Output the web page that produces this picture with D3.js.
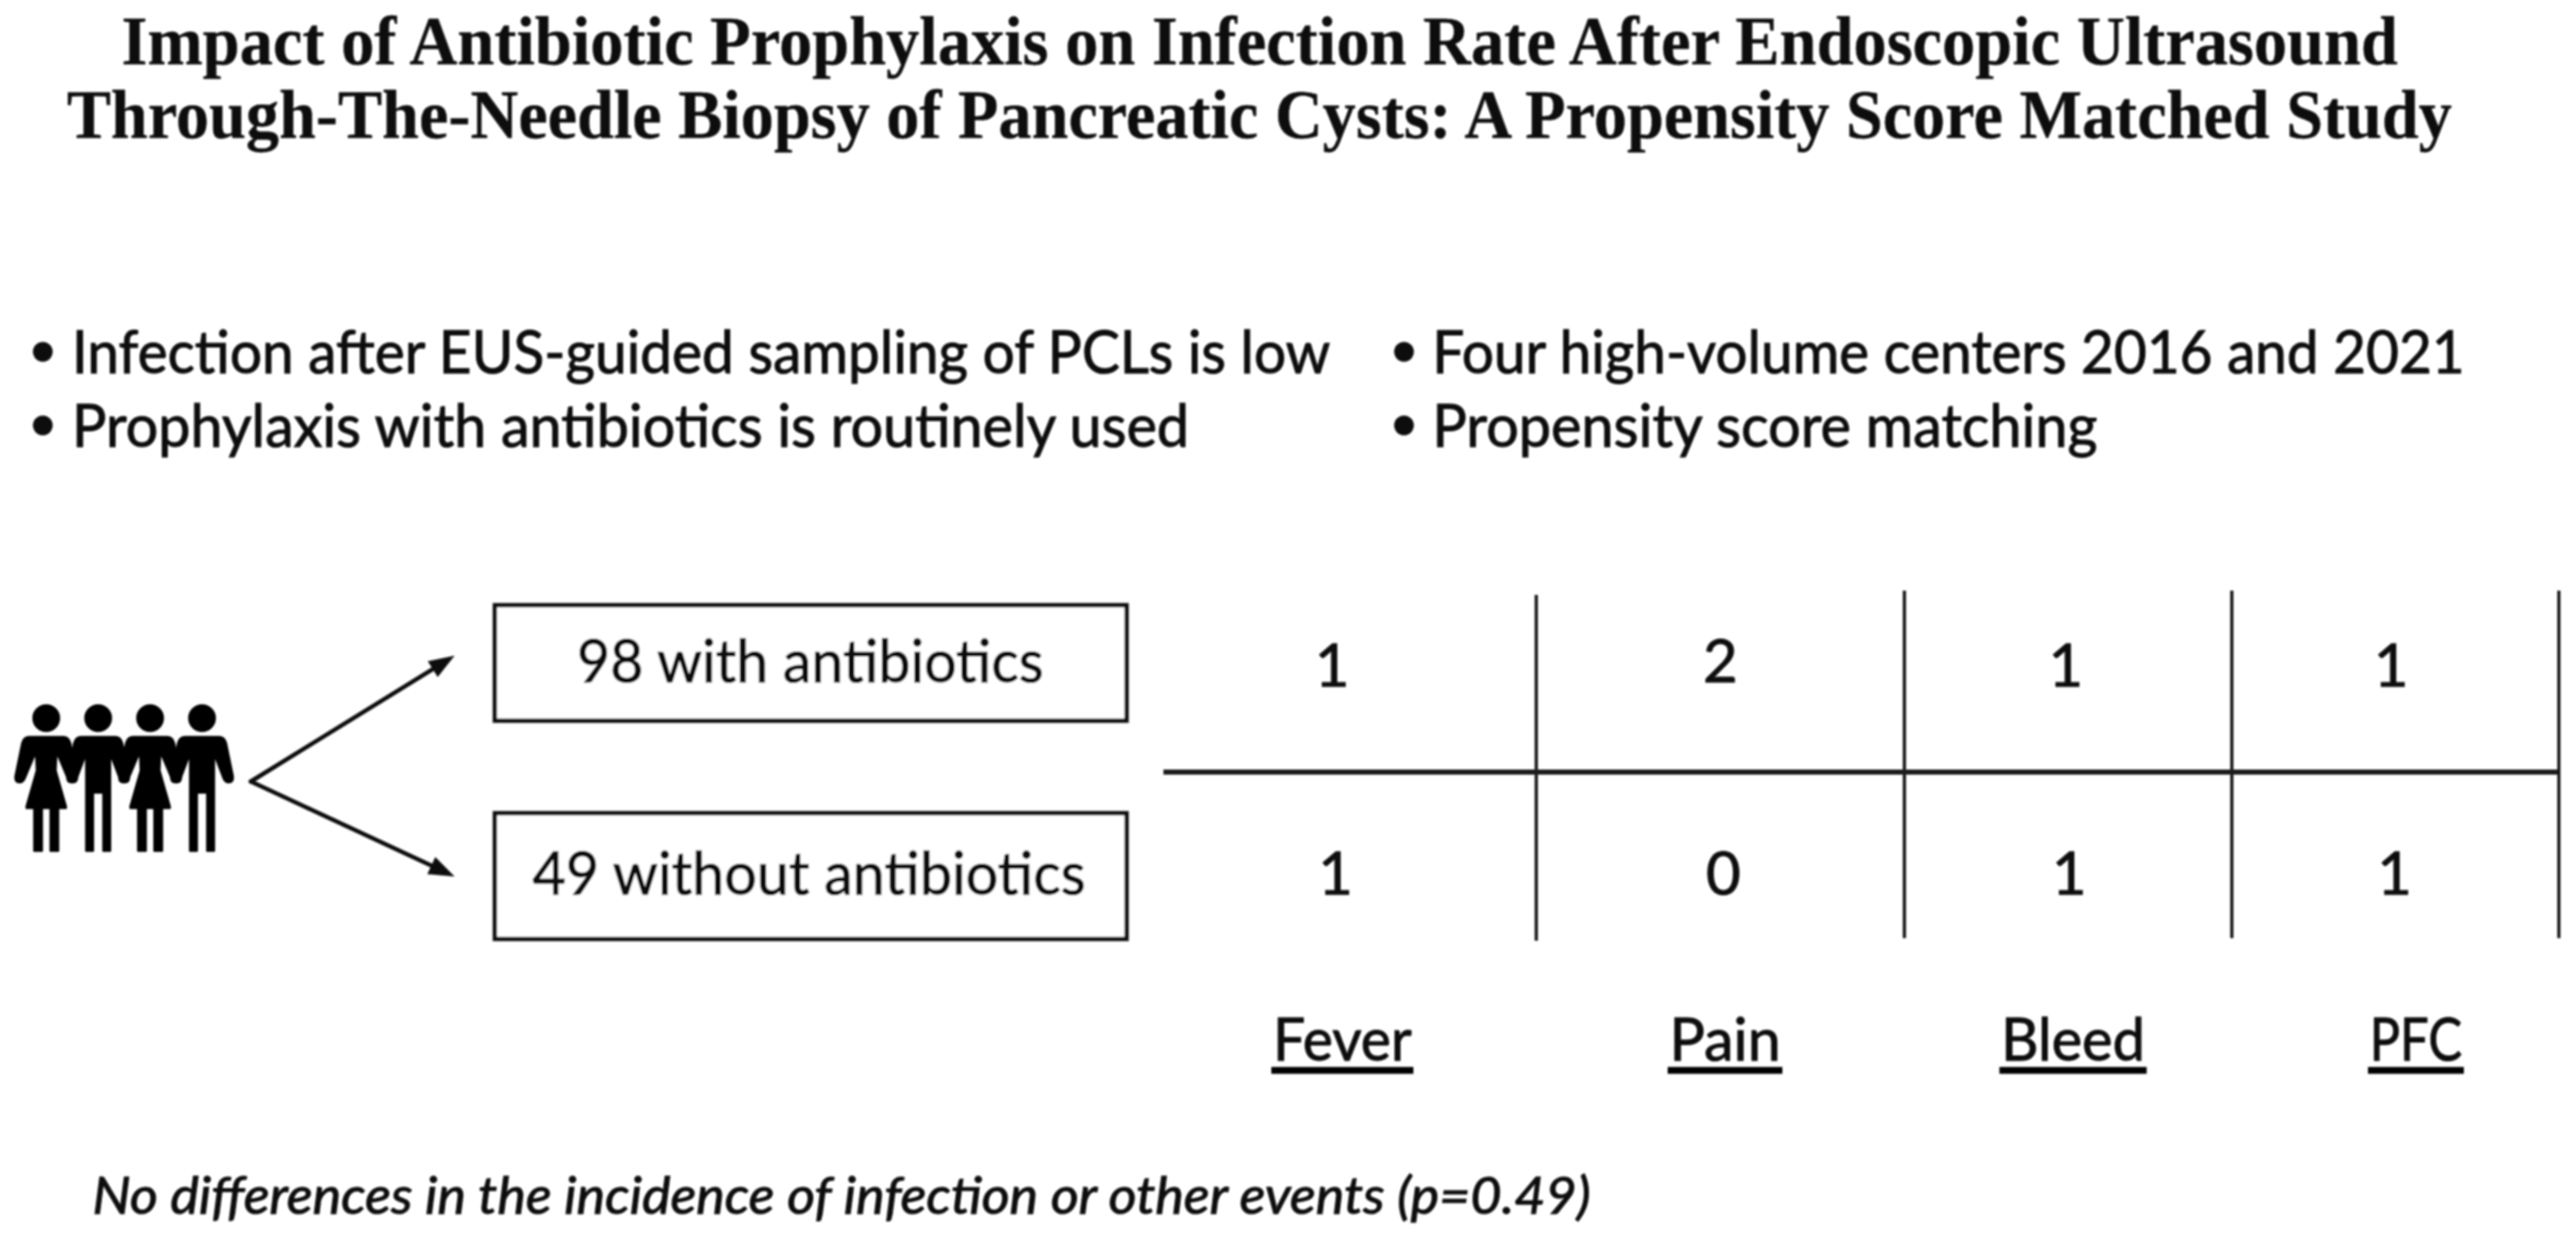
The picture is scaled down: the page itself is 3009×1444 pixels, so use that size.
<!DOCTYPE html>
<html><head><meta charset="utf-8">
<script src="https://cdn.jsdelivr.net/npm/d3@7"></script>
<style>html,body{margin:0;padding:0;background:#fff;overflow:hidden}svg{display:block}</style>
</head><body><svg id="c" width="3009" height="1444"></svg>
<script>
// ---- content ----
const titleLines = ["Impact of Antibiotic Prophylaxis on Infection Rate After Endoscopic Ultrasound",
                    "Through-The-Needle Biopsy of Pancreatic Cysts: A Propensity Score Matched Study"];
const bulletsLeft = ["Infection after EUS-guided sampling of PCLs is low","Prophylaxis with antibiotics is routinely used"];
const bulletsRight = ["Four high-volume centers 2016 and 2021","Propensity score matching"];
const groups = ["98 with antibiotics","49 without antibiotics"];
const categories = ["Fever","Pain","Bleed","PFC"];
const withAntibiotics = [1,2,1,1];
const withoutAntibiotics = [1,0,1,1];
const people = ["woman","man","woman","man"];
const note = "No differences in the incidence of infection or other events (p=0.49)";

// ---- layout ----
const W=3009,H=1444,SANS="Lato, 'Open Sans', sans-serif",SERIF="'Liberation Serif', serif",INK="#0a0a0a";
const titleBox=[[142,2801,75],[78,2864,161]];
const bulletLeftBox=[[84,1554,436],[84,1389,522]];
const bulletRightBox=[[1673,2879,436],[1673,2450,522]];
const bulletDot=[[50,411],[50,497]], bulletDotR=[[1640,411],[1640,497]];
const boxes=[[578,707,1316,842],[578,950,1316,1097]];
const groupText=[[674,1219,797],[622,1268,1045]];
const arrowApex=[293,913], arrowTips=[[531,766],[531,1024]];
const topX=d3.scaleOrdinal(categories,[1556,2009.5,2413,2793]);
const bottomX=d3.scaleOrdinal(categories,[1560,2013,2417,2797]);
const topY=d3.scaleOrdinal(categories,[802,797,802,802]);
const bottomY=d3.scaleOrdinal(categories,[1045,1045,1045,1045]);
const labelX=d3.scaleOrdinal(categories,[1568,2015,2421.5,2822]);
const labelW=d3.scaleOrdinal(categories,[162,130,168,108]);
const dividers=[[1794.5,695,1099],[2224.5,690,1096],[2607,690,1096],[2989,690,1096]];
const personX=d3.scalePoint(d3.range(people.length),[54,236]);

const svg=d3.select("#c");
const defs=svg.append("defs");
defs.append("filter").attr("id","soft").attr("x","-2%").attr("y","-2%").attr("width","104%").attr("height","104%")
  .append("feGaussianBlur").attr("stdDeviation",1.1);
svg.append("rect").attr("width",W).attr("height",H).attr("fill","#fff");
const g=svg.append("g").attr("filter","url(#soft)");

function fitText(sel,font,size,weight,style){
  return sel.attr("font-family",font).attr("font-size",size).attr("font-weight",weight||400)
    .attr("font-style",style||"normal").attr("fill",INK).attr("lengthAdjust","spacingAndGlyphs")
    .attr("stroke",INK).attr("stroke-width",weight===700?0.3:1.1);
}
function lines(name,texts,box,font,size,weight){
  fitText(g.append("g").attr("class",name).selectAll("text").data(texts).join("text"),font,size,weight)
    .attr("x",(d,i)=>box[i][0]).attr("y",(d,i)=>box[i][2])
    .attr("textLength",(d,i)=>box[i][1]-box[i][0]).text(d=>d);
}
lines("title",titleLines,titleBox,SERIF,80,700);
lines("bullets-left",bulletsLeft,bulletLeftBox,SANS,70);
lines("bullets-right",bulletsRight,bulletRightBox,SANS,70);
g.append("g").selectAll("circle").data(bulletDot.concat(bulletDotR)).join("circle")
  .attr("cx",d=>d[0]).attr("cy",d=>d[1]).attr("r",11.5).attr("fill",INK);

// people icons (local coordinates around body centre, y from top of the head)
const head="M-15,-121 a15,15 0 1,1 30,0 a15,15 0 1,1 -30,0Z";
const womanPath=head+
 "M-20,-99 H20 Q26,-99 28,-92 L36,-53 Q37,-46 31,-46 Q27,-46 25,-51 L12,-82 L11,-60 L23,-18 V-16 H14 V34 H5 V-16 H-5 V34 H-14 V-16 H-23 V-18 L-11,-60 L-12,-82 L-25,-51 Q-27,-46 -31,-46 Q-37,-46 -36,-53 L-28,-92 Q-26,-99 -20,-99Z";
const manPath=head+
 "M-20,-99 H20 Q26,-99 28,-92 L36,-53 Q37,-46 31,-46 Q27,-46 25,-51 L14,-80 V34 H6 V-34 H-6 V34 H-14 V-80 L-25,-51 Q-27,-46 -31,-46 Q-37,-46 -36,-53 L-28,-92 Q-26,-99 -20,-99Z";
g.append("g").attr("class","people").selectAll("path").data(people).join("path")
  .attr("transform",(d,i)=>`translate(${personX(i)},960)`)
  .attr("d",d=>d==="woman"?womanPath:manPath).attr("fill","#000")
  .attr("stroke","#000").attr("stroke-width",2.5).attr("stroke-linejoin","round");

// arrows
const arrowG=g.append("g").attr("class","arrows");
arrowTips.forEach(t=>{
  const dx=t[0]-arrowApex[0],dy=t[1]-arrowApex[1],L=Math.hypot(dx,dy),ux=dx/L,uy=dy/L,hl=30,hw=11;
  arrowG.append("line").attr("x1",arrowApex[0]).attr("y1",arrowApex[1])
    .attr("x2",t[0]-ux*hl*.8).attr("y2",t[1]-uy*hl*.8).attr("stroke","#111").attr("stroke-width",5).attr("stroke-linecap","round");
  const bx=t[0]-ux*hl,by=t[1]-uy*hl;
  arrowG.append("polygon").attr("fill","#0a0a0a")
    .attr("points",[[t[0],t[1]],[bx-uy*hw,by+ux*hw],[bx+uy*hw,by-ux*hw]].map(p=>p.join(",")).join(" "));
});

// group boxes
g.append("g").attr("class","boxes").selectAll("rect").data(boxes).join("rect")
  .attr("x",d=>d[0]).attr("y",d=>d[1]).attr("width",d=>d[2]-d[0]).attr("height",d=>d[3]-d[1])
  .attr("fill","#fff").attr("stroke","#111").attr("stroke-width",5);
lines("group-labels",groups,groupText,SANS,70);

// table grid
g.append("g").attr("class","grid").selectAll("line").data(dividers).join("line")
  .attr("x1",d=>d[0]).attr("x2",d=>d[0]).attr("y1",d=>d[1]).attr("y2",d=>d[2])
  .attr("stroke","#111").attr("stroke-width",3.6);
g.append("line").attr("x1",1359).attr("x2",2988).attr("y1",902).attr("y2",902).attr("stroke","#1a1a1a").attr("stroke-width",6);

// values
fitText(g.append("g").selectAll("text").data(categories).join("text"),SANS,70)
  .attr("x",d=>topX(d)).attr("y",d=>topY(d)).attr("text-anchor","middle").text((d,i)=>withAntibiotics[i]);
fitText(g.append("g").selectAll("text").data(categories).join("text"),SANS,70)
  .attr("x",d=>bottomX(d)).attr("y",d=>bottomY(d)).attr("text-anchor","middle").text((d,i)=>withoutAntibiotics[i]);

// category labels, underlined
fitText(g.append("g").selectAll("text").data(categories).join("text"),SANS,70)
  .attr("x",d=>labelX(d)-labelW(d)/2).attr("y",1239).attr("textLength",d=>labelW(d)).text(d=>d);
g.append("g").selectAll("line").data(categories).join("line")
  .attr("x1",d=>labelX(d)-labelW(d)/2-2).attr("x2",d=>labelX(d)+labelW(d)/2+2)
  .attr("y1",1250.5).attr("y2",1250.5).attr("stroke","#000").attr("stroke-width",8);

// footnote
fitText(g.append("text"),SANS,61,400,"italic").attr("x",108).attr("y",1418).attr("textLength",1750).text(note);
</script></body></html>
